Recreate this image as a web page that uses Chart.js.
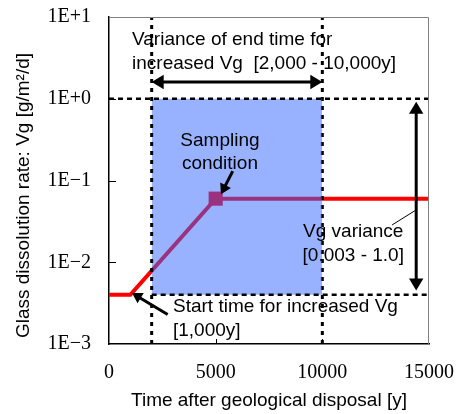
<!DOCTYPE html>
<html>
<head>
<meta charset="utf-8">
<script src="https://cdn.jsdelivr.net/npm/chart.js@4/dist/chart.umd.min.js"></script>
<style>
  html, body { margin: 0; padding: 0; background: #fff; }
  #wrap { width: 456px; height: 414px; }
</style>
</head>
<body>
<div id="wrap"><canvas id="vgChart"></canvas></div>
<script>
var black = 'rgb(0, 0, 0)';
var red = 'rgb(255, 0, 0)';
var gray = 'rgb(128, 128, 128)';
var blueTransparent = 'rgba(51, 102, 255, 0.5)';
var sansFont = '"Liberation Sans", Arial, sans-serif';
var serifFont = '"Liberation Serif", "Times New Roman", serif';

////////////////////////////////////////////////////////////////////////////////
// Data.

// Vg history: time after disposal [y] and glass dissolution rate [g/m2/d].
var timeYears = [0, 1000, 5000, 15000];
var vgRate = [0.004, 0.004, 0.06, 0.06];

// Sampling condition.
var sampleTime = [5000];
var sampleVg = [0.06];

// Variance ranges.
var endTimeRange = [2000, 10000];
var vgRange = [0.004, 1.0];

// Axis ticks.
var xTickValues = [0, 5000, 10000, 15000];
var yTickValues = [0.001, 0.01, 0.1, 1, 10];
var yTickLabels = ['1E\u22123', '1E\u22122', '1E\u22121', '1E+0', '1E+1'];

// Arrows, in data coordinates.
var arrows = [
    { from: [endTimeRange[0], 1.6], to: [endTimeRange[1], 1.6], both: true, width: 3, head: 12 },
    { from: [14400, 0.92], to: [14400, 0.0045], both: true, width: 3, head: 12 },
    { from: [5800, 0.13], to: [5250, 0.068], width: 3, head: 10 },
    { from: [2750, 0.0023], to: [1080, 0.0042], width: 3, head: 10 },
    { from: [13270, 0.0286], to: [14400, 0.0437], width: 1, head: 0 }
];

// Notes, anchored in data coordinates.
var notes = [
    { at: [1080, 5.2], align: 'left', lines: ['Variance of end time for', 'increased Vg  [2,000 - 10,000y]'] },
    { at: [5200, 0.31], align: 'center', lines: ['Sampling', 'condition'] },
    { at: [11450, 0.0235], align: 'center', lines: ['Vg variance', '[0.003 - 1.0]'] },
    { at: [3000, 0.00284], align: 'left', lines: ['Start time for increased Vg', '[1,000y]'] }
];

var yTitle = 'Glass dissolution rate: Vg [g/m\u00b2/d]';
var xTitle = 'Time after geological disposal [y]';

////////////////////////////////////////////////////////////////////////////////
// Helpers.

function xy(xs, ys) {
    return xs.map(function (x, i) { return { x: x, y: ys[i] }; });
}

function guide(points, dash, width, order) {
    return {
        data: points,
        showLine: true,
        borderColor: black,
        borderWidth: width,
        borderDash: dash,
        pointRadius: 0,
        order: order
    };
}

// Fixed axis size, no extra label padding around the plot.
function fixSize(key, size) {
    return function (scale) {
        scale[key] = size;
        scale.paddingLeft = scale.paddingRight = 0;
        scale.paddingTop = scale.paddingBottom = 0;
    };
}

function drawArrow(c, x1, y1, x2, y2, a) {
    var ang = Math.atan2(y2 - y1, x2 - x1);
    var cos = Math.cos(ang), sin = Math.sin(ang);
    var head = a.head, half = head * 0.6;
    var sx = x1, sy = y1, ex = x2, ey = y2;
    if (head) {
        ex = x2 - cos * head * 0.9;
        ey = y2 - sin * head * 0.9;
        if (a.both) {
            sx = x1 + cos * head * 0.9;
            sy = y1 + sin * head * 0.9;
        }
    }
    c.lineWidth = a.width;
    c.beginPath();
    c.moveTo(sx, sy);
    c.lineTo(ex, ey);
    c.stroke();

    function tip(tx, ty, dx, dy) {
        c.beginPath();
        c.moveTo(tx, ty);
        c.lineTo(tx - dx * head - dy * half, ty - dy * head + dx * half);
        c.lineTo(tx - dx * head + dy * half, ty - dy * head - dx * half);
        c.closePath();
        c.fill();
    }
    if (head) {
        tip(x2, y2, cos, sin);
        if (a.both) tip(x1, y1, -cos, -sin);
    }
}

// Frame, inward ticks, arrows and notes.
var overlay = {
    id: 'overlay',
    afterDraw: function (chart) {
        var c = chart.ctx;
        var area = chart.chartArea;
        var xs = chart.scales.x, ys = chart.scales.y;
        c.save();

        // Top and right frame.
        c.strokeStyle = gray;
        c.lineWidth = 1;
        c.beginPath();
        c.moveTo(area.left, area.top + 0.5);
        c.lineTo(area.right - 0.5, area.top + 0.5);
        c.lineTo(area.right - 0.5, area.bottom);
        c.stroke();

        // Inward tick marks.
        c.strokeStyle = black;
        c.lineWidth = 1;
        c.beginPath();
        yTickValues.slice(1, -1).forEach(function (v) {
            var y = Math.round(ys.getPixelForValue(v)) + 0.5;
            c.moveTo(area.left, y);
            c.lineTo(area.left + 7, y);
        });
        xTickValues.slice(1, -1).forEach(function (v) {
            var x = Math.round(xs.getPixelForValue(v)) + 0.5;
            c.moveTo(x, area.bottom);
            c.lineTo(x, area.bottom - 5);
        });
        c.stroke();

        // Arrows.
        c.strokeStyle = black;
        c.fillStyle = black;
        arrows.forEach(function (a) {
            drawArrow(c,
                xs.getPixelForValue(a.from[0]), ys.getPixelForValue(a.from[1]),
                xs.getPixelForValue(a.to[0]), ys.getPixelForValue(a.to[1]), a);
        });

        // Notes.
        c.font = '19px ' + sansFont;
        c.textBaseline = 'middle';
        notes.forEach(function (n) {
            var x = xs.getPixelForValue(n.at[0]);
            var y = ys.getPixelForValue(n.at[1]);
            c.textAlign = n.align;
            n.lines.forEach(function (line, i) {
                c.fillText(line, x, y + i * 23.5);
            });
        });

        // Y axis title.
        c.translate(24, (area.top + area.bottom) / 2 + 15);
        c.rotate(-Math.PI / 2);
        c.textAlign = 'center';
        c.fillText(yTitle, 0, 0);

        c.restore();
    }
};

////////////////////////////////////////////////////////////////////////////////
// Chart.

var ctx = document.getElementById('vgChart').getContext('2d');

var myChart = new Chart(ctx, {
    type: 'scatter',
    plugins: [overlay],
    data: {
        datasets: [
            {
                label: 'Vg',
                data: xy(timeYears, vgRate),
                showLine: true,
                borderColor: red,
                borderWidth: 4,
                pointRadius: 0,
                order: 7
            },
            {
                label: 'Sampling condition',
                data: xy(sampleTime, sampleVg),
                pointStyle: 'rect',
                pointRadius: 10,
                backgroundColor: red,
                borderWidth: 0,
                order: 6
            },
            guide([{ x: endTimeRange[1], y: 0.001 }, { x: endTimeRange[1], y: 10 }], [4, 5], 3, 5),
            {
                // Variance box.
                data: [{ x: endTimeRange[0], y: vgRange[1] }, { x: endTimeRange[1], y: vgRange[1] }],
                showLine: true,
                borderWidth: 0,
                pointRadius: 0,
                backgroundColor: blueTransparent,
                fill: { value: vgRange[0] },
                order: 4
            },
            guide([{ x: endTimeRange[0], y: 0.001 }, { x: endTimeRange[0], y: 10 }], [4, 5], 3, 3),
            guide([{ x: 0, y: vgRange[1] }, { x: 15000, y: vgRange[1] }], [5, 4], 2.5, 2),
            guide([{ x: endTimeRange[0], y: vgRange[0] }, { x: 15000, y: vgRange[0] }], [5, 4], 2.5, 1)
        ]
    },
    options: {
        responsive: true,
        maintainAspectRatio: false,
        animation: false,
        layout: {
            padding: { left: 0, right: 27, top: 17, bottom: 0 }
        },
        plugins: {
            legend: { display: false },
            tooltip: { enabled: false }
        },
        scales: {
            x: {
                type: 'linear',
                min: 0,
                max: 15000,
                afterBuildTicks: function (scale) {
                    scale.ticks = xTickValues.map(function (v) { return { value: v }; });
                },
                afterFit: fixSize('height', 70),
                grid: { display: false, drawTicks: false },
                border: { display: true, color: black, width: 1.5 },
                ticks: {
                    color: black,
                    font: { family: serifFont, size: 20 },
                    padding: 17,
                    maxRotation: 0,
                    autoSkip: false,
                    callback: function (value) { return String(value); }
                },
                title: {
                    display: true,
                    text: xTitle,
                    color: black,
                    font: { family: sansFont, size: 19 },
                    padding: 2
                }
            },
            y: {
                type: 'logarithmic',
                min: 0.001,
                max: 10,
                afterBuildTicks: function (scale) {
                    scale.ticks = yTickValues.map(function (v) { return { value: v }; });
                },
                afterFit: fixSize('width', 109),
                grid: { display: false, drawTicks: false },
                border: { display: true, color: black, width: 1.5 },
                ticks: {
                    color: black,
                    font: { family: serifFont, size: 20 },
                    padding: 18,
                    autoSkip: false,
                    callback: function (value, index) { return yTickLabels[index]; }
                }
            }
        }
    }
});
</script>
</body>
</html>
